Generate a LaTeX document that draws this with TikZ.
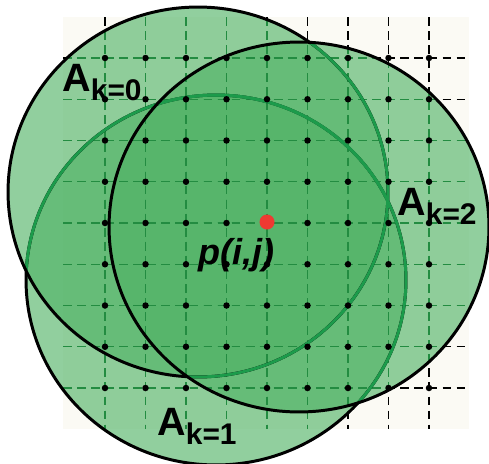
\documentclass[tikz,border=0pt]{standalone}
\usepackage{fontspec}
\setmainfont{Liberation Sans}
\usetikzlibrary{positioning}
\definecolor{leafgreen}{RGB}{78,178,100}
\definecolor{rimgreen}{RGB}{28,155,75}
\definecolor{gridgreen}{RGB}{35,140,65}
\definecolor{cream}{RGB}{251,250,244}
\definecolor{pointred}{RGB}{238,58,50}
\tikzset{
    ell/.style={x radius=3.8cm,y radius=3.7cm},
    area/.style={fill=leafgreen,fill opacity=0.62},
    rim/.style={line width=1.7pt},
    gridline/.style={dash pattern=on 5pt off 3pt,line width=0.6pt},
    lab/.style={anchor=base west,inner sep=0pt,font=\fontsize{22.5}{22.5}\selectfont\bfseries},
}
\newcommand{\areaA}[1]{A\raisebox{-5.5pt}{\fontsize{17}{17}\selectfont k=#1}}
\newcommand{\gridpaths}[1]{%
  \foreach \i in {0,...,8}{
    \draw[gridline,#1] ({105+40.5*\i},17) -- ({105+40.5*\i},429);
    \draw[gridline,#1] (63,{58+41.25*\i}) -- (469,{58+41.25*\i});
  }}

\begin{document}
\begin{tikzpicture}[x=0.02cm,y=-0.02cm]
\useasboundingbox (0,0) rectangle (489,463);
\fill[white] (0,0) rectangle (489,463);
\fill[cream] (63,17) rectangle (469,429);
\coordinate (c0) at (198,192);
\coordinate (c1) at (216,280);
\coordinate (c2) at (299,227);
% lattice
\gridpaths{black}
% search areas
\path[area] (c1) ellipse [ell];
\path[area] (c0) ellipse [ell];
\path[area] (c2) ellipse [ell];
\begin{scope}\clip (c0) ellipse [ell]; \gridpaths{gridgreen}\end{scope}
\begin{scope}\clip (c1) ellipse [ell]; \gridpaths{gridgreen}\end{scope}
\begin{scope}\clip (c2) ellipse [ell]; \gridpaths{gridgreen}\end{scope}
% borders
\draw[rim] (c1) ellipse [ell];
\begin{scope}\clip (c0) ellipse [ell]; \draw[rim,rimgreen] (c1) ellipse [ell];\end{scope}
\draw[rim] (c0) ellipse [ell];
\begin{scope}\clip (c2) ellipse [ell];
  \draw[rim,rimgreen] (c1) ellipse [ell];
  \draw[rim,rimgreen] (c0) ellipse [ell];
\end{scope}
\draw[rim] (c2) ellipse [ell];
% pixels
\foreach \i in {0,...,8}
  \foreach \j in {0,...,8}
    \fill ({105+40.5*\i},{58+41.25*\j}) circle [radius=0.065cm];
\node[circle,fill=pointred,inner sep=0pt,minimum size=0.3cm] (p) at (267,222) {};
\node[anchor=base west,inner sep=0pt,font=\fontsize{20.5}{20.5}\selectfont\bfseries\itshape] (pij) at (198,264) {p(i,j)};
\node[lab] (a0) at (62,91) {\areaA{0}};
\node[lab] (a1) at (157,435) {\areaA{1}};
\node[lab] (a2) at (397,215) {\areaA{2}};
\end{tikzpicture}
\end{document}
